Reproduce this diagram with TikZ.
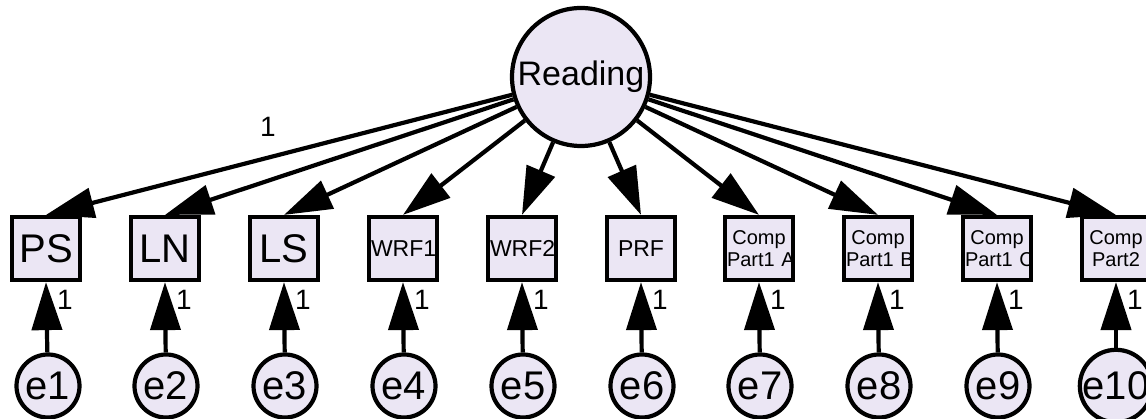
\documentclass[tikz,border=0pt]{standalone}
\usepackage{fontspec}
\setmainfont{Liberation Sans}
\usetikzlibrary{arrows.meta}
\definecolor{nodefill}{RGB}{235,230,244}
\begin{document}
\begin{tikzpicture}[x=1pt,y=-1pt,
  obs/.style={draw, line width=4.2pt, fill=nodefill, minimum width=68pt, minimum height=63pt,
              inner sep=0pt, text width=64pt, align=center},
  lat/.style={circle, draw, line width=4.2pt, fill=nodefill, inner sep=0pt},
  err/.style={lat, minimum size=63pt, font=\fontsize{40}{40}\selectfont},
  big/.style={font=\fontsize{40}{40}\selectfont},
  mid/.style={font=\fontsize{23}{23}\selectfont},
  small/.style={font=\fontsize{20}{22}\selectfont},
  load/.style={line width=4.2pt, -{Triangle[length=48pt,width=30pt]}},
  lbl/.style={font=\fontsize{28}{28}\selectfont, inner sep=0pt}
]
\useasboundingbox (0,0) rectangle (1146,419);
\node[lat, minimum size=138pt, font=\fontsize{34}{34}\selectfont] (R) at (581,77) {Reading};

\node[obs,big]   (b1)  at (46,248.5)   {PS};
\node[obs,big]   (b2)  at (165,248.5)  {LN};
\node[obs,big]   (b3)  at (284,248.5)  {LS};
\node[obs,mid]   (b4)  at (403,248.5)  {WRF1};
\node[obs,mid]   (b5)  at (522,248.5)  {WRF2};
\node[obs,mid]   (b6)  at (641,248.5)  {PRF};
\node[obs,small] (b7)  at (759,248.5)  {Comp\\Part1~A};
\node[obs,small] (b8)  at (878,248.5)  {Comp\\Part1~B};
\node[obs,small] (b9)  at (997,248.5)  {Comp\\Part1~C};
\node[obs,small] (b10) at (1116,248.5) {Comp\\Part2};

\node[err] (e1)  at (48,386)   {e1};
\node[err] (e2)  at (166,386)  {e2};
\node[err] (e3)  at (285,386)  {e3};
\node[err] (e4)  at (404,386)  {e4};
\node[err] (e5)  at (523,386)  {e5};
\node[err] (e6)  at (642,386)  {e6};
\node[err] (e7)  at (760,386)  {e7};
\node[err] (e8)  at (879,386)  {e8};
\node[err] (e9)  at (998,386)  {e9};
\node[err] (e10) at (1116,386) {e10};

\foreach \i in {1,...,10} {
  \draw[load] (R) -- (b\i.north);
  \draw[load] (e\i) -- (b\i.south);
  \node[lbl, anchor=west] at ([xshift=11pt,yshift=-18pt]b\i.south) {1};
}
\node[lbl] (top1) at (268,127) {1};
\end{tikzpicture}
\end{document}
